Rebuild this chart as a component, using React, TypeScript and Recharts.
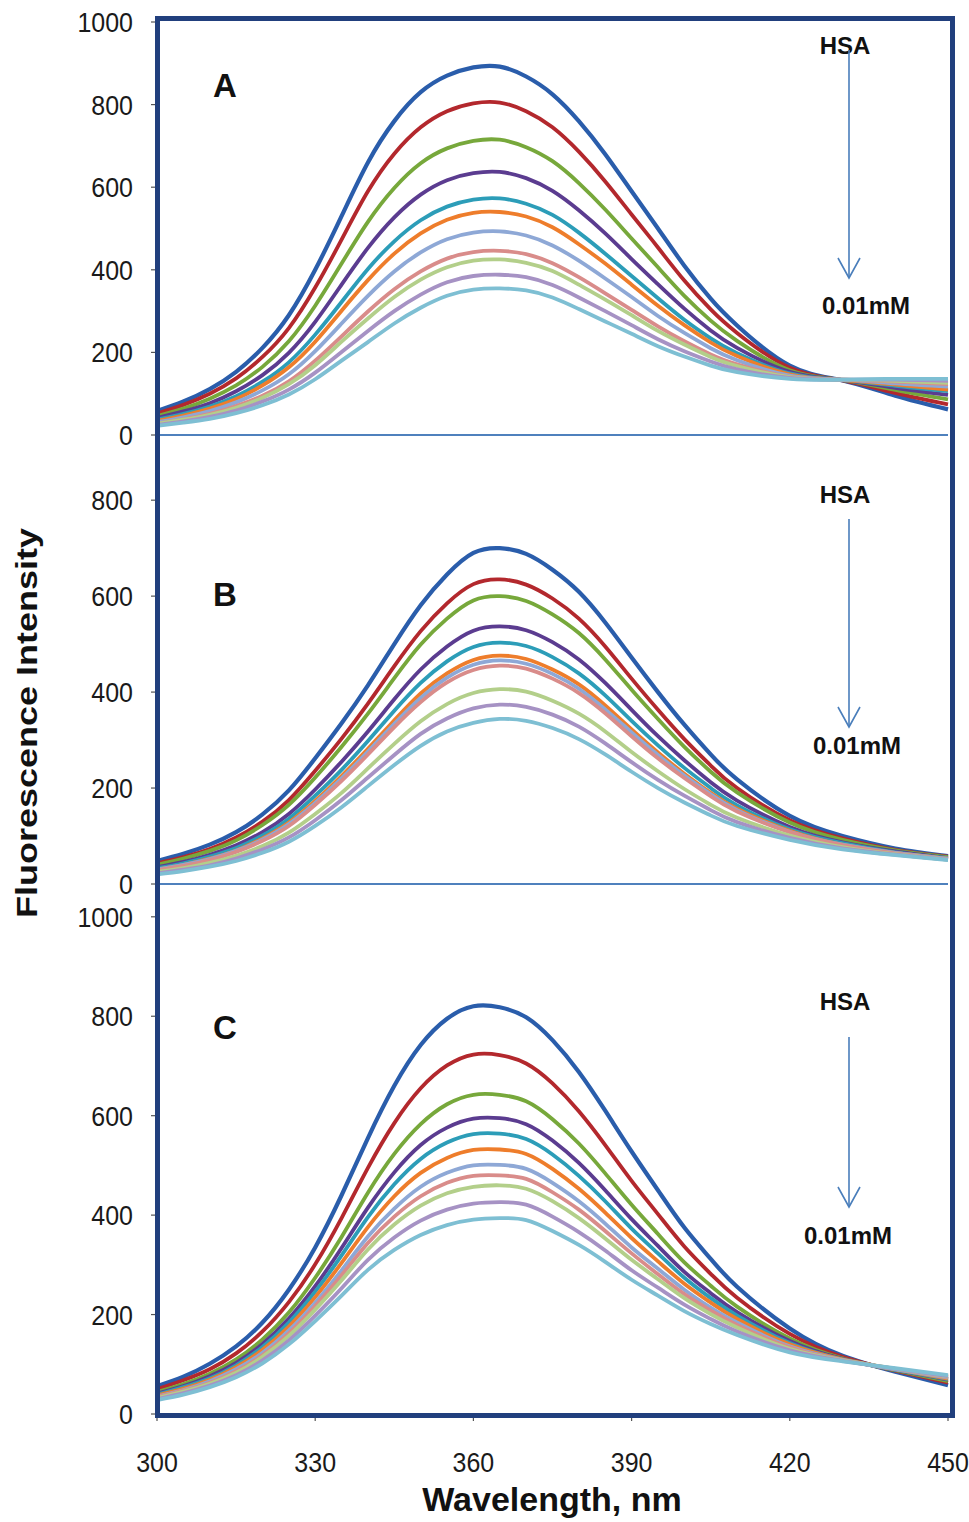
import React from 'react';
import { LineChart, Line, XAxis, YAxis, ReferenceLine } from 'recharts';

// Wavelength sample points (nm)
const wavelengths = [300, 305, 310, 315, 320, 325, 330, 335, 340, 345, 350, 355, 360, 365, 370, 375, 380, 385, 390, 395, 400, 405, 410, 420, 430, 440, 450];

// Tick labels
const xTicks = [300, 330, 360, 390, 420, 450];
const yTicksA = [0, 200, 400, 600, 800, 1000];
const yTicksB = [0, 200, 400, 600, 800];
const yTicksC = [0, 200, 400, 600, 800, 1000];

const seriesColors = ['#2A5DAB', '#B3282D', '#77A83B', '#5B3C90', '#2C9DB8', '#EE7D2B', '#8EA8D6', '#D98C8A', '#B3CF8A', '#A692C4', '#7EBFD3'];

// Panel A: fluorescence intensity, 11 spectra (top to bottom)
const panelA: number[][] = [
  [58, 81, 111, 153, 211, 290, 400, 530, 660, 760, 830, 870, 890, 892, 868, 825, 760, 680, 590, 500, 410, 330, 265, 168, 132, 95, 62],
  [52, 73, 100, 137, 189, 259, 357, 473, 590, 681, 745, 784, 803, 805, 784, 745, 686, 614, 534, 454, 374, 304, 247, 163, 132, 102, 74],
  [46, 64, 88, 120, 165, 227, 313, 415, 516, 598, 658, 694, 712, 715, 697, 663, 610, 546, 476, 406, 337, 277, 228, 157, 133, 109, 86],
  [41, 57, 77, 106, 145, 199, 274, 364, 453, 527, 582, 617, 634, 637, 622, 591, 544, 488, 426, 365, 306, 253, 211, 153, 133, 114, 97],
  [37, 51, 69, 94, 129, 176, 243, 322, 402, 469, 520, 553, 570, 573, 560, 533, 490, 439, 385, 331, 279, 234, 198, 149, 133, 119, 106],
  [34, 47, 64, 87, 120, 164, 226, 301, 375, 439, 488, 521, 538, 540, 529, 503, 462, 415, 364, 313, 266, 224, 191, 147, 133, 122, 110],
  [31, 43, 58, 79, 108, 147, 203, 270, 337, 396, 442, 474, 490, 493, 483, 459, 422, 379, 334, 288, 247, 210, 181, 144, 134, 125, 117],
  [28, 38, 51, 70, 95, 130, 180, 239, 299, 353, 396, 427, 443, 446, 438, 416, 382, 343, 303, 263, 227, 195, 171, 141, 134, 129, 123],
  [27, 37, 49, 66, 90, 123, 169, 226, 282, 334, 376, 406, 422, 425, 417, 397, 364, 328, 290, 252, 219, 189, 167, 140, 134, 131, 126],
  [24, 33, 44, 59, 81, 110, 151, 201, 252, 300, 340, 370, 385, 388, 382, 363, 333, 300, 266, 232, 203, 178, 159, 138, 134, 134, 131],
  [22, 30, 39, 53, 72, 98, 135, 180, 225, 270, 308, 337, 352, 355, 350, 333, 305, 275, 245, 215, 190, 168, 152, 136, 134, 136, 136],
];

// Panel B
const panelB: number[][] = [
  [48, 63, 82, 108, 145, 195, 262, 335, 414, 500, 581, 645, 690, 700, 688, 655, 609, 545, 472, 400, 332, 270, 218, 142, 100, 74, 58],
  [43, 56, 73, 97, 130, 175, 236, 303, 376, 454, 527, 585, 625, 635, 624, 595, 553, 495, 428, 363, 302, 247, 200, 133, 95, 71, 57],
  [40, 53, 69, 91, 123, 165, 222, 286, 355, 429, 499, 553, 591, 600, 590, 562, 523, 468, 405, 344, 286, 234, 191, 128, 92, 70, 56],
  [35, 46, 61, 81, 108, 146, 197, 255, 318, 385, 447, 495, 528, 537, 529, 504, 468, 419, 363, 308, 258, 212, 174, 119, 87, 68, 54],
  [33, 43, 57, 75, 101, 136, 184, 238, 298, 361, 419, 464, 494, 503, 496, 473, 439, 393, 340, 289, 242, 200, 164, 114, 85, 66, 54],
  [30, 40, 53, 70, 95, 128, 173, 225, 282, 341, 397, 439, 467, 476, 469, 447, 416, 372, 322, 274, 230, 190, 157, 111, 82, 65, 53],
  [30, 40, 52, 69, 93, 125, 169, 220, 276, 334, 388, 430, 457, 466, 459, 438, 407, 364, 316, 269, 226, 187, 154, 109, 82, 65, 53],
  [29, 38, 50, 67, 90, 121, 165, 215, 270, 327, 379, 420, 446, 455, 449, 428, 398, 356, 308, 262, 221, 183, 151, 108, 81, 64, 52],
  [25, 33, 44, 59, 79, 107, 146, 190, 241, 292, 339, 375, 398, 406, 401, 382, 355, 318, 275, 235, 198, 165, 138, 101, 77, 62, 51],
  [22, 30, 39, 53, 72, 97, 133, 175, 222, 269, 313, 345, 366, 374, 369, 353, 328, 293, 254, 217, 184, 154, 129, 96, 74, 61, 51],
  [20, 27, 36, 48, 65, 88, 121, 160, 204, 248, 288, 318, 336, 344, 340, 325, 302, 270, 234, 200, 170, 143, 121, 92, 72, 60, 50],
];

// Panel C
const panelC: number[][] = [
  [56, 75, 101, 136, 184, 250, 335, 440, 555, 660, 742, 795, 820, 818, 798, 752, 688, 610, 528, 450, 375, 312, 256, 172, 117, 85, 58],
  [50, 68, 90, 122, 166, 225, 301, 394, 495, 585, 655, 701, 723, 722, 705, 665, 609, 541, 469, 402, 337, 282, 234, 161, 115, 87, 63],
  [44, 60, 81, 110, 150, 204, 274, 356, 445, 523, 583, 623, 642, 642, 629, 593, 544, 484, 421, 362, 305, 258, 216, 152, 112, 88, 66],
  [41, 56, 76, 103, 141, 192, 257, 334, 415, 486, 541, 576, 594, 595, 583, 550, 505, 450, 392, 338, 286, 243, 205, 147, 111, 89, 69],
  [39, 54, 72, 98, 135, 184, 246, 319, 396, 462, 513, 546, 563, 564, 553, 522, 479, 428, 373, 323, 274, 233, 198, 143, 110, 89, 70],
  [37, 51, 69, 94, 129, 176, 235, 304, 376, 438, 485, 515, 531, 532, 523, 493, 453, 405, 354, 307, 262, 224, 191, 140, 110, 90, 71],
  [35, 48, 66, 90, 123, 168, 224, 289, 357, 413, 457, 485, 500, 501, 493, 465, 428, 383, 335, 292, 250, 214, 184, 136, 109, 90, 73],
  [34, 47, 63, 86, 118, 162, 217, 279, 344, 397, 438, 465, 479, 480, 473, 446, 411, 368, 323, 281, 241, 208, 179, 134, 108, 91, 74],
  [32, 45, 61, 83, 115, 157, 210, 269, 331, 381, 419, 444, 457, 460, 453, 428, 394, 353, 310, 271, 233, 201, 174, 131, 108, 91, 75],
  [30, 42, 57, 78, 108, 148, 198, 253, 310, 355, 389, 411, 423, 426, 421, 397, 366, 329, 289, 254, 220, 191, 166, 128, 107, 91, 76],
  [28, 39, 54, 74, 102, 140, 187, 238, 290, 330, 360, 380, 391, 394, 390, 368, 340, 306, 270, 238, 207, 181, 159, 124, 106, 92, 78],
];

const buildRows = (panel: number[][]) =>
  wavelengths.map((w, i) => {
    const row: Record<string, number> = { w };
    panel.forEach((s, k) => {
      row['s' + k] = s[i];
    });
    return row;
  });

const dataA = buildRows(panelA);
const dataB = buildRows(panelB);
const dataC = buildRows(panelC);

const TICK_FONT = '"Liberation Sans", Arial, sans-serif';
const BOLD_FONT = '"Liberation Sans", Arial, sans-serif';

const YTick = (props: any) => {
  const { x, y, payload } = props;
  return (
    <text
      transform={`translate(${x},${y + 10}) scale(1,1.12)`}
      textAnchor="end"
      fontFamily={TICK_FONT}
      fontSize={25}
      fill="#1a1a1a"
    >
      {payload.value}
    </text>
  );
};

const XTick = (props: any) => {
  const { x, y, payload } = props;
  return (
    <text
      transform={`translate(${x},${y + 51}) scale(1,1.12)`}
      textAnchor="middle"
      fontFamily={TICK_FONT}
      fontSize={25}
      fill="#1a1a1a"
    >
      {payload.value}
    </text>
  );
};

const renderLines = () =>
  seriesColors.map((c, k) => (
    <Line
      key={k}
      type="natural"
      dataKey={'s' + k}
      stroke={c}
      strokeWidth={k === 0 ? 4.2 : 3.8}
      dot={false}
      activeDot={false}
      isAnimationActive={false}
    />
  ));

const yAxisCommon = {
  width: 157,
  axisLine: false,
  tickSize: 6,
  tickMargin: 18,
  tickLine: { stroke: '#555', strokeWidth: 1.2 },
  tick: <YTick />,
  interval: 0 as const,
};

const Arrow = ({ x, y1, y2 }: { x: number; y1: number; y2: number }) => (
  <g stroke="#4A7EBB" strokeWidth={1.6} fill="none">
    <line x1={x} y1={y1} x2={x} y2={y2} />
    <polyline points={`${x - 11},${y2 - 20} ${x},${y2} ${x + 11},${y2 - 20}`} />
  </g>
);

export default function App() {
  return (
    <div style={{ position: 'absolute', left: 0, top: 0, width: 969, height: 1522, background: '#fff' }}>
      {/* Panel A */}
      <div style={{ position: 'absolute', left: 0, top: 0 }}>
        <LineChart width={969} height={462} data={dataA} margin={{ top: 22, right: 21, bottom: 27, left: 0 }}>
          <XAxis dataKey="w" type="number" domain={[300, 450]} hide />
          <YAxis {...yAxisCommon} domain={[0, 1000]} ticks={yTicksA} />
          <ReferenceLine y={0} stroke="#4F81BD" strokeWidth={2} ifOverflow="visible" />
          {renderLines()}
        </LineChart>
      </div>
      {/* Panel B */}
      <div style={{ position: 'absolute', left: 0, top: 420 }}>
        <LineChart width={969} height={492} data={dataB} margin={{ top: 13, right: 21, bottom: 28, left: 0 }}>
          <XAxis dataKey="w" type="number" domain={[300, 450]} hide />
          <YAxis {...yAxisCommon} domain={[0, 940]} ticks={yTicksB} />
          <ReferenceLine y={0} stroke="#4F81BD" strokeWidth={2} ifOverflow="visible" />
          {renderLines()}
        </LineChart>
      </div>
      {/* Panel C */}
      <div style={{ position: 'absolute', left: 0, top: 860 }}>
        <LineChart width={969} height={662} data={dataC} margin={{ top: 22, right: 21, bottom: 58, left: 0 }}>
          <XAxis
            dataKey="w"
            type="number"
            domain={[300, 450]}
            ticks={xTicks}
            interval={0}
            height={50}
            axisLine={false}
            tickSize={7}
            tickMargin={0}
            tickLine={{ stroke: '#555', strokeWidth: 1.2 }}
            tick={<XTick />}
          />
          <YAxis {...yAxisCommon} domain={[0, 1070]} ticks={yTicksC} />
          {renderLines()}
        </LineChart>
      </div>

      {/* Overlay: frame, annotations, axis titles */}
      <svg
        width={969}
        height={1522}
        style={{ position: 'absolute', left: 0, top: 0, pointerEvents: 'none' }}
      >
        <rect x={157.5} y={18.5} width={795} height={1397} fill="none" stroke="#213F7D" strokeWidth={5} />

        <g fontFamily={BOLD_FONT} fontWeight="bold" fill="#111">
          <text x={225} y={97} textAnchor="middle" fontSize={33}>A</text>
          <text x={225} y={606} textAnchor="middle" fontSize={33}>B</text>
          <text x={225} y={1039} textAnchor="middle" fontSize={33}>C</text>

          <text x={845} y={54} textAnchor="middle" fontSize={24}>HSA</text>
          <text x={866} y={314} textAnchor="middle" fontSize={24}>0.01mM</text>
          <text x={845} y={503} textAnchor="middle" fontSize={24}>HSA</text>
          <text x={857} y={754} textAnchor="middle" fontSize={24}>0.01mM</text>
          <text x={845} y={1010} textAnchor="middle" fontSize={24}>HSA</text>
          <text x={848} y={1244} textAnchor="middle" fontSize={24}>0.01mM</text>

          <text x={552} y={1511} textAnchor="middle" fontSize={34}>Wavelength, nm</text>
          <text transform="translate(37,723) rotate(-90) scale(1.2,1)" textAnchor="middle" fontSize={30}>
            Fluorescence Intensity
          </text>
        </g>

        <Arrow x={849} y1={50} y2={278} />
        <Arrow x={849} y1={519} y2={727} />
        <Arrow x={849} y1={1037} y2={1207} />
      </svg>
    </div>
  );
}
